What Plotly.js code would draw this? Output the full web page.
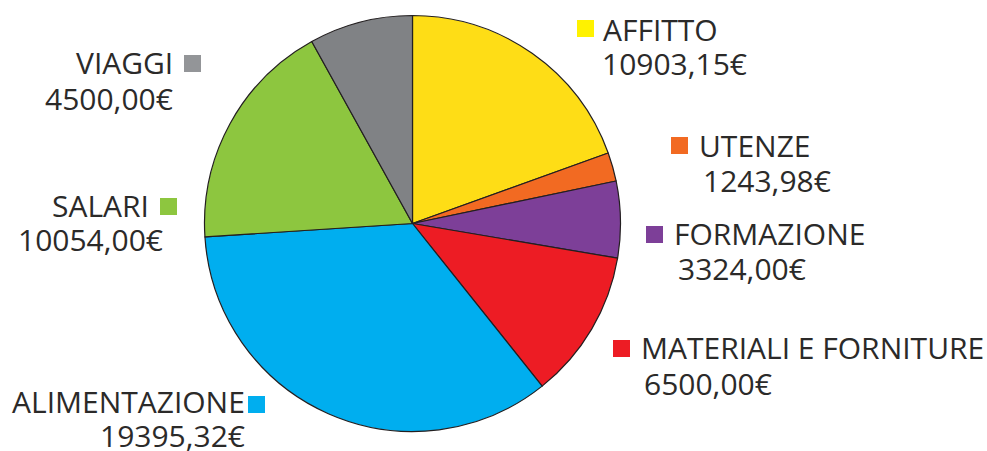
<!DOCTYPE html>
<html>
<head>
<meta charset="utf-8">
<script src="https://cdn.plot.ly/plotly-3.0.1.min.js"></script>
<style>html,body{margin:0;padding:0;background:#fff;}#chart{width:987px;height:451px;}</style>
</head>
<body>
<div id="chart"></div>
<script>
const categories = ["AFFITTO", "UTENZE", "FORMAZIONE", "MATERIALI E FORNITURE", "ALIMENTAZIONE", "SALARI", "VIAGGI"];
const values = [10903.15, 1243.98, 3324.00, 6500.00, 19395.32, 10054.00, 4500.00];
const valueLabels = ["10903,15€", "1243,98€", "3324,00€", "6500,00€", "19395,32€", "10054,00€", "4500,00€"];
const sliceColors = ["#FEDD16", "#F26A22", "#7D3F98", "#ED1C24", "#00AEEF", "#8DC63F", "#808285"];
const keyColors = ["#FFF200", "#F26A22", "#7D3F98", "#ED1C24", "#00AEEF", "#8DC63F", "#939598"];

const W = 987, H = 451;
const px = x => x / W;
const py = y => 1 - y / H;

// label layout: [squareLeft, squareTop, side, textX, nameY, valueX, valueY]
const labelPos = [
  [577, 20, "right", 602, 29, 601, 64],
  [671, 137, "right", 698, 145, 702, 180],
  [646, 226, "right", 673, 234, 677, 268],
  [613, 340, "right", 640, 347, 643, 383],
  [248, 396, "left", 246, 401, 246, 435],
  [160, 198, "left", 150, 205, 164, 240],
  [184, 55, "left", 174, 63, 174, 98]
];
const SQ = 17;
const font = {family: "'Open Sans', Roboto, sans-serif", size: 30, weight: 400, color: "#2B2A29"};

const annotations = [];
const shapes = [];
categories.forEach((c, i) => {
  const p = labelPos[i];
  shapes.push({type: "rect", xref: "paper", yref: "paper",
    x0: px(p[0]), x1: px(p[0] + SQ), y0: py(p[1] + SQ), y1: py(p[1]),
    fillcolor: keyColors[i], line: {width: 0}});
  const anchor = p[2] === "right" ? "left" : "right";
  annotations.push({text: c, xref: "paper", yref: "paper", x: px(p[3]), y: py(p[4]),
    xanchor: anchor, yanchor: "middle", showarrow: false, font: font, borderpad: 0});
  annotations.push({text: valueLabels[i], xref: "paper", yref: "paper", x: px(p[5]), y: py(p[6]),
    xanchor: anchor, yanchor: "middle", showarrow: false, font: font, borderpad: 0});
});

const data = [{
  type: "pie",
  labels: categories,
  values: values,
  sort: false,
  direction: "clockwise",
  rotation: 0,
  textinfo: "none",
  hoverinfo: "label+value",
  marker: {colors: sliceColors, line: {color: "#231F20", width: 1.2}},
  domain: {x: [px(412.5 - 208), px(412.5 + 208)], y: [py(431.5), py(15.5)]},
  showlegend: false
}];

const layout = {
  width: W, height: H,
  margin: {l: 0, r: 0, t: 0, b: 0},
  paper_bgcolor: "#ffffff",
  showlegend: false,
  annotations: annotations,
  shapes: shapes
};

Plotly.newPlot("chart", data, layout, {displayModeBar: false, staticPlot: true});
</script>
</body>
</html>
